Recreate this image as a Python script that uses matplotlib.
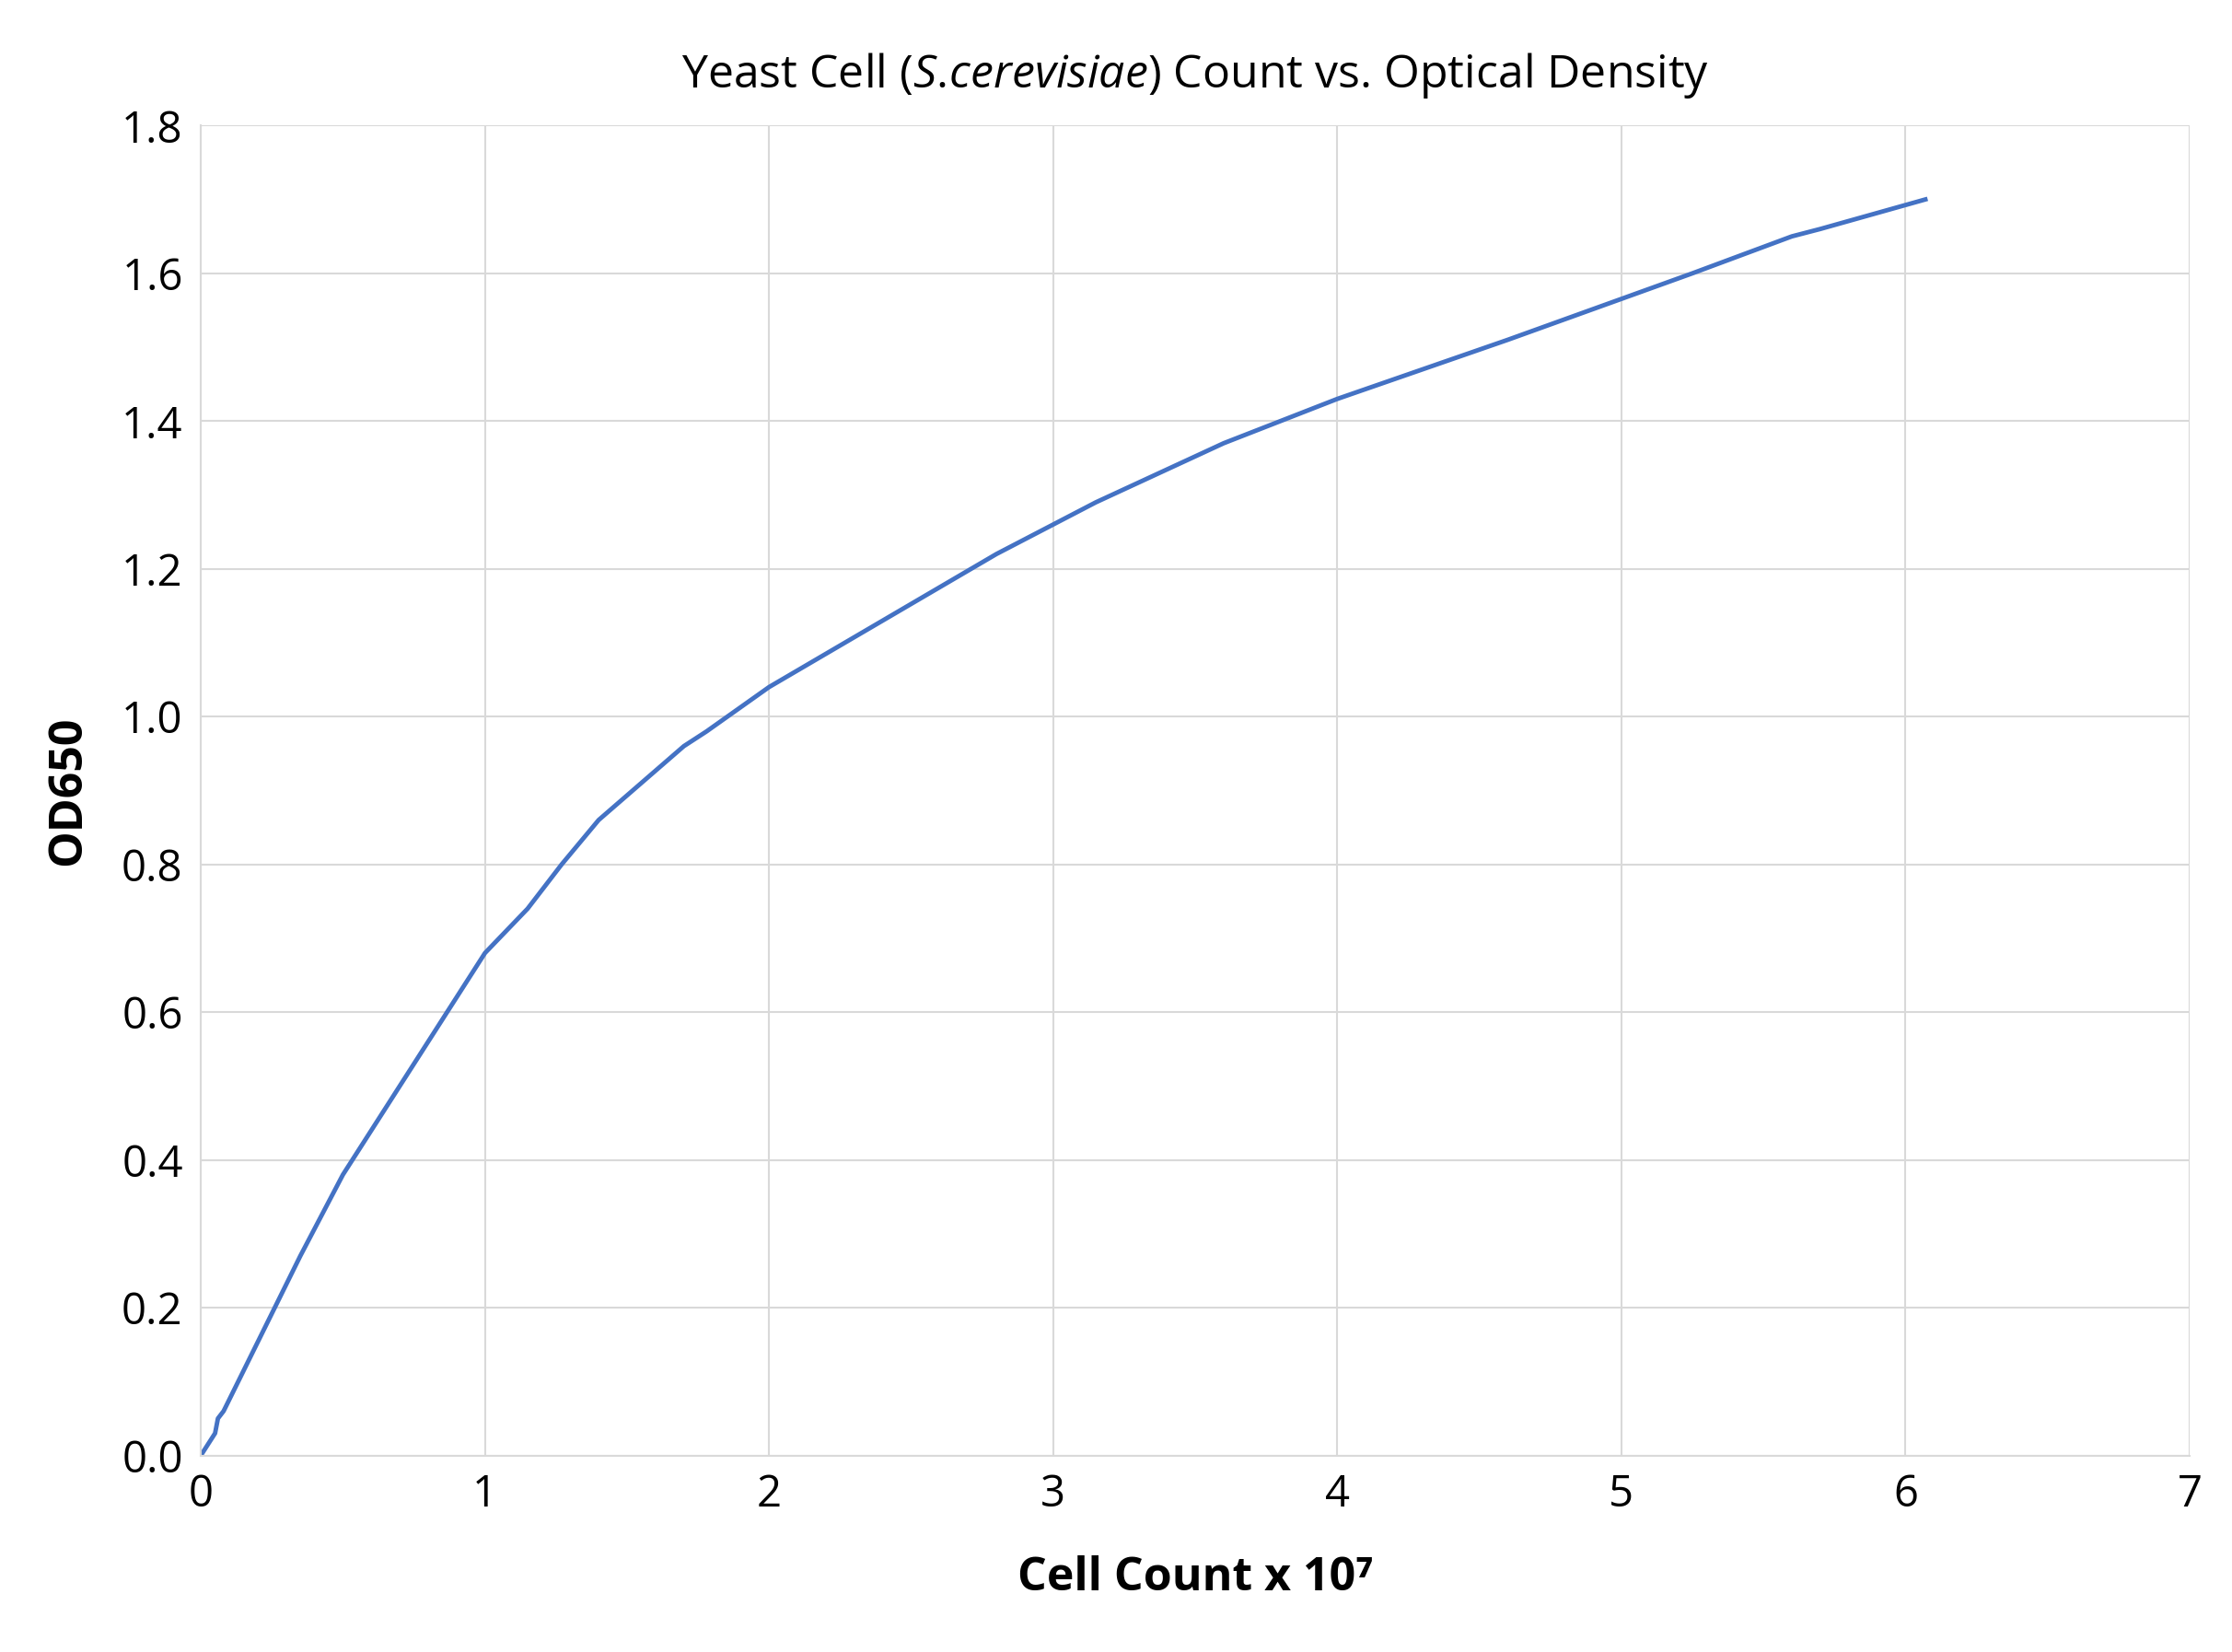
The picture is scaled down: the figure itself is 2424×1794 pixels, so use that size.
import matplotlib
matplotlib.use("Agg")
import matplotlib.pyplot as plt

cell_count = [0, 0.05, 0.06, 0.08, 0.35, 0.5, 0.6, 1.0, 1.15, 1.27, 1.4, 1.7, 1.78, 2.0,
              2.4, 2.8, 3.15, 3.6, 4.0, 4.15, 4.6, 5.25, 5.6, 5.7, 6.07]
od650 = [0, 0.03, 0.05, 0.06, 0.27, 0.38, 0.44, 0.68, 0.74, 0.8, 0.86, 0.96, 0.98, 1.04,
         1.13, 1.22, 1.29, 1.37, 1.43, 1.45, 1.51, 1.6, 1.65, 1.66, 1.70]

plt.rcParams['font.family'] = ['Open Sans', 'DejaVu Sans']
plt.rcParams['mathtext.fontset'] = 'custom'
plt.rcParams['mathtext.it'] = 'Open Sans:italic'
plt.rcParams['mathtext.rm'] = 'Open Sans'

fig = plt.figure(figsize=(24.24, 17.94), dpi=100)
ax = fig.add_axes([0.09, 0.119, 0.891, 0.805])
ax.plot(cell_count, od650, color='#4472C4', lw=3.5)
ax.set_xlim(0, 7)
ax.set_ylim(0, 1.8)
ax.set_xticks(range(0, 8))
ax.set_yticks([i * 0.2 for i in range(10)])
ax.set_yticklabels([f"{i*0.2:.1f}" for i in range(10)])
ax.grid(True, color='#D9D9D9', lw=1.5)
ax.set_axisbelow(True)
for s in ['top', 'right']:
    ax.spines[s].set_visible(False)
for s in ['left', 'bottom']:
    ax.spines[s].set_color('#D9D9D9')
    ax.spines[s].set_linewidth(1.5)
ax.tick_params(length=0, labelsize=34, pad=14, colors='black')
ax.set_title(r"Yeast Cell ($\it{S.\!cerevisiae}$) Count vs. Optical Density", fontsize=36, pad=30)
ax.set_xlabel("Cell Count x 10⁷", fontsize=36, fontweight='bold', labelpad=30)
ax.set_ylabel("OD650", fontsize=36, fontweight='bold', labelpad=24)
fig.savefig("out.png")
